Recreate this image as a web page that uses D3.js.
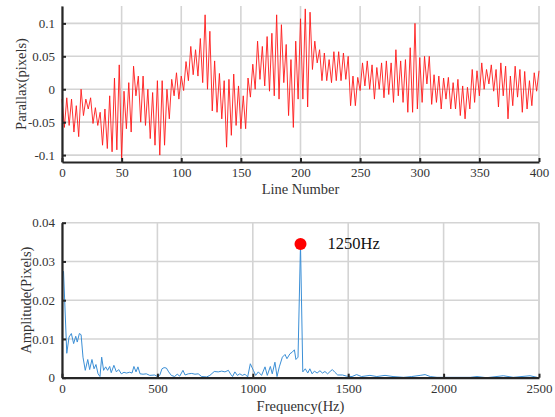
<!DOCTYPE html>
<html>
<head>
<meta charset="utf-8">
<script src="https://cdn.jsdelivr.net/npm/d3@7"></script>
<style>
  body { margin: 0; background: #fff; }
  svg text { font-family: "Liberation Serif", "Times New Roman", serif; }
</style>
</head>
<body>
<svg id="chart" width="555" height="417"></svg>
<script>
// parallax read at every 2nd line (0, 2, ..., 400)
const parallax = [
  -0.015, -0.058, -0.013, -0.055, -0.015, -0.065, -0.025, -0.072, 0.0, -0.04,
  -0.015, -0.03, -0.013, -0.052, -0.028, -0.055, -0.035, -0.085, -0.03, -0.09,
  -0.01, -0.095, 0.017, -0.092, 0.037, -0.105, -0.003, -0.06, 0.01, -0.065,
  0.035, -0.01, 0.02, -0.05, 0.02, -0.055, 0.0, -0.075, -0.005, -0.085,
  0.013, -0.1, 0.013, -0.085, 0.0, -0.045, 0.015, -0.01, 0.025, -0.015,
  0.02, -0.002, 0.042, 0.013, 0.065, 0.022, 0.06, 0.02, 0.077, 0.01,
  0.113, 0.0, 0.088, -0.033, 0.043, -0.035, 0.024, -0.045, 0.013, -0.088,
  0.015, -0.07, 0.023, -0.055, 0.005, -0.06, -0.01, -0.06, 0.017, -0.012,
  0.038, 0.0, 0.073, 0.015, 0.065, 0.005, 0.08, -0.003, 0.085, -0.01,
  0.113, -0.015, 0.098, 0.01, 0.068, -0.04, 0.045, -0.058, 0.073, -0.015,
  0.107, -0.015, 0.122, -0.027, 0.117, 0.03, 0.073, 0.04, 0.06, 0.013,
  0.055, 0.013, 0.045, 0.01, 0.057, 0.013, 0.057, 0.013, 0.055, 0.015,
  0.05, -0.025, 0.02, -0.025, 0.018, -0.002, 0.04, 0.005, 0.043, 0.0,
  0.037, -0.015, 0.033, 0.0, 0.04, -0.013, 0.043, -0.008, 0.04, -0.02,
  0.06, -0.01, 0.043, -0.02, 0.045, -0.035, 0.063, -0.035, 0.1, -0.03,
  0.048, -0.02, 0.05, 0.008, 0.05, -0.023, 0.022, -0.02, 0.02, -0.03,
  0.017, -0.015, 0.018, -0.03, 0.01, -0.03, 0.015, -0.04, 0.005, -0.045,
  0.003, -0.03, 0.03, -0.02, 0.028, -0.01, 0.04, 0.0, 0.03, 0.008,
  0.037, -0.003, 0.03, -0.027, 0.04, -0.01, 0.035, -0.045, 0.02, -0.025,
  0.035, -0.012, 0.03, -0.035, 0.027, -0.03, 0.013, -0.025, 0.025, -0.003,
  0.028
];
const lineStep = 2;

// spectrum vertices
const freqHz = [8, 25, 37, 49, 61, 72, 80, 91, 100, 110, 122, 135, 145, 157, 168, 178, 189, 199,
  208, 218, 229, 239, 250, 258, 272, 285, 297, 311, 325, 337, 355, 367, 377, 388, 398, 409,
  425, 442, 460, 486, 500, 512, 524, 535, 547, 559, 573, 590, 604, 617, 634, 645, 662, 680,
  697, 714, 732, 758, 775, 798, 819, 837, 854, 872, 884, 894, 906, 919, 932, 945, 959, 973,
  987, 1003, 1015, 1029, 1046, 1064, 1076, 1092, 1102, 1116, 1127, 1139, 1155, 1169, 1179,
  1195, 1207, 1218, 1226, 1237, 1250, 1262, 1275, 1288, 1299, 1311, 1323, 1337, 1352, 1365,
  1378, 1392, 1405, 1417, 1430, 1445, 1470, 1492, 1520, 1544, 1570, 1614, 1650, 1693, 1735,
  1790, 1833, 1877, 1903, 1930, 1965, 2035, 2140, 2175, 2225, 2313, 2365, 2453, 2490];
const amplitude = [0.0275, 0.0063, 0.0105, 0.0114, 0.0088, 0.0107, 0.0092, 0.0114, 0.0111, 0.0053,
  0.0019, 0.0047, 0.0021, 0.0047, 0.0023, 0.0034, 0.001, 0.0003, 0.0053, 0.0019, 0.0028, 0.0019,
  0.0029, 0.0013, 0.0032, 0.0015, 0.0021, 0.001, 0.0014, 0.0012, 0.0014, 0.0012, 0.0029, 0.0015,
  0.0028, 0.001, 0.0009, 0.001, 0.0006, 0.0007, 0.0003, 0.0006, 0.0023, 0.0026, 0.0025, 0.0015,
  0.0006, 0.0003, 0.0009, 0.0004, 0.0019, 0.0007, 0.001, 0.0011, 0.0009, 0.001, 0.0003, 0.0002,
  0.0006, 0.0016, 0.0015, 0.0017, 0.0015, 0.0019, 0.0009, 0.0003, 0.0015, 0.0006, 0.001, 0.0006,
  0.0009, 0.0002, 0.0036, 0.0019, 0.0006, 0.0015, 0.0006, 0.0028, 0.0006, 0.0029, 0.001, 0.004,
  0.0003, 0.0028, 0.0053, 0.006, 0.0049, 0.0062, 0.0066, 0.0072, 0.0047, 0.0053, 0.0345, 0.0015,
  0.0023, 0.0012, 0.0023, 0.001, 0.0017, 0.0012, 0.0018, 0.0012, 0.0016, 0.001, 0.0016, 0.0021,
  0.0014, 0.0007, 0.0007, 0.0004, 0.0003, 0.0008, 0.0003, 0.0006, 0.0003, 0.0006, 0.0003, 0.0001,
  0.0003, 0.0006, 0.0008, 0.0003, 0.0001, 0.0001, 0.0001, 0.0003, 0.0, 0.0005, 0.0001, 0.0005, 0.0001];

const peakFreq = 1250, peakAmp = 0.0345, peakLabel = "1250Hz";

const topXTicks = [0, 50, 100, 150, 200, 250, 300, 350, 400];
const topYTicks = [-0.1, -0.05, 0, 0.05, 0.1];
const botXTicks = [0, 500, 1000, 1500, 2000, 2500];
const botYTicks = [0, 0.01, 0.02, 0.03, 0.04];

const svg = d3.select("#chart");
const left = 62, right = 539;
const serif = "Liberation Serif, Times New Roman, serif";
const gridColor = "#d4d4d4", axisColor = "#262626", labelColor = "#333";

function drawPanel(opts) {
  const { x, y, xTicks, yTicks, yFmt, xTitle, yTitle, xTitleY, yTitleX, box } = opts;
  const g = svg.append("g");
  const [y0, y1] = y.range();

  // grid
  g.selectAll(".gx").data(xTicks).enter().append("line")
    .attr("x1", d => x(d)).attr("x2", d => x(d))
    .attr("y1", y0).attr("y2", y1)
    .style("stroke", gridColor).style("stroke-width", 1.6);
  g.selectAll(".gy").data(yTicks).enter().append("line")
    .attr("x1", left).attr("x2", right)
    .attr("y1", d => y(d)).attr("y2", d => y(d))
    .style("stroke", gridColor).style("stroke-width", 1.6);
  if (box) {
    g.append("line").attr("x1", right).attr("x2", right).attr("y1", y0).attr("y2", y1)
      .style("stroke", gridColor).style("stroke-width", 1.6);
  }

  const layer = g.append("g");

  // axes with inward ticks
  const xAxis = g.append("g").attr("transform", `translate(0,${y0})`)
    .call(d3.axisBottom(x).tickValues(xTicks).tickFormat(d => String(d))
      .tickSizeInner(-4).tickSizeOuter(0).tickPadding(6));
  const yAxis = g.append("g").attr("transform", `translate(${left},0)`)
    .call(d3.axisLeft(y).tickValues(yTicks).tickFormat(yFmt)
      .tickSizeInner(-4).tickSizeOuter(0).tickPadding(7));
  [xAxis, yAxis].forEach(a => {
    a.attr("font-family", serif).attr("font-size", 13);
    a.select(".domain").style("stroke", axisColor).style("stroke-width", 2.2);
    a.selectAll(".tick line").style("stroke", axisColor).style("stroke-width", 2);
    a.selectAll(".tick text").attr("font-family", serif)
      .style("font-family", serif).style("font-size", "13px").style("fill", labelColor);
  });

  g.append("text").attr("x", (left + right) / 2).attr("y", xTitleY)
    .attr("text-anchor", "middle").style("font-size", "14.5px").style("fill", labelColor)
    .text(xTitle);
  g.append("text")
    .attr("transform", `translate(${yTitleX},${(y0 + y1) / 2}) rotate(-90)`)
    .attr("text-anchor", "middle").style("font-size", "14.5px").style("fill", labelColor)
    .text(yTitle);
  return layer;
}

// top panel
const xTop = d3.scaleLinear().domain([0, 400]).range([left, right]);
const yTop = d3.scaleLinear().domain([-0.1105, 0.1264]).range([162, 6]);
const topLayer = drawPanel({
  x: xTop, y: yTop, xTicks: topXTicks, yTicks: topYTicks,
  yFmt: d => d === 0 ? "0" : String(d),
  xTitle: "Line Number", yTitle: "Parallax(pixels)", xTitleY: 194, yTitleX: 26, box: false
});
topLayer.append("path")
  .datum(parallax)
  .attr("d", d3.line().x((d, i) => xTop(i * lineStep)).y(d => yTop(d)))
  .style("fill", "none").style("stroke", "#ff1a1a").style("stroke-width", 0.9);

// bottom panel
const xBot = d3.scaleLinear().domain([0, 2500]).range([left, right]);
const yBot = d3.scaleLinear().domain([0, 0.04]).range([377.7, 222.7]);
const botLayer = drawPanel({
  x: xBot, y: yBot, xTicks: botXTicks, yTicks: botYTicks,
  yFmt: d => d === 0 ? "0" : d3.format(".2f")(d),
  xTitle: "Frequency(Hz)", yTitle: "Amplitude(Pixels)", xTitleY: 411, yTitleX: 31, box: true
});
const spectrum = freqHz.map((f, i) => ({ f: f, a: amplitude[i] }));
botLayer.append("path")
  .datum(spectrum)
  .attr("d", d3.line().x(d => xBot(d.f)).y(d => yBot(d.a)))
  .style("fill", "none").style("stroke", "#3b8fd6").style("stroke-width", 1);

botLayer.append("circle")
  .attr("cx", xBot(peakFreq)).attr("cy", yBot(peakAmp)).attr("r", 6)
  .style("fill", "#ff0000");
botLayer.append("text")
  .attr("x", xBot(peakFreq) + 27).attr("y", yBot(peakAmp) + 5)
  .style("font-size", "16.5px").style("fill", "#111")
  .text(peakLabel);
</script>
</body>
</html>
